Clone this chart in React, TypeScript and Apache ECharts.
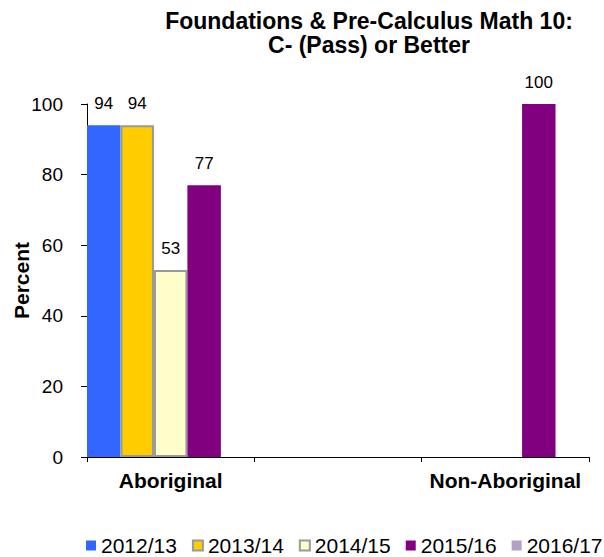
import React, { useEffect, useRef } from "react";
import * as echarts from "echarts";

const categories = ["Aboriginal", "", "Non-Aboriginal"];
const seriesNames = ["2012/13", "2013/14", "2014/15", "2015/16", "2016/17"];
const values2012 = [94, null, null];
const values2013 = [94, null, null];
const values2014 = [53, null, null];
const values2015 = [77, null, 100];
const values2016 = [null, null, null];
const yTicks = { min: 0, max: 100, interval: 20 };

const FONT = "'Liberation Sans', Arial, sans-serif";

export default function App() {
  const ref = useRef<HTMLDivElement>(null);
  useEffect(() => {
    if (!ref.current) return;
    const chart = echarts.init(ref.current, undefined, { renderer: "svg" });
    const allValues = [values2012, values2013, values2014, values2015, values2016];
    const colors = ["#3366FF", "#FFCC00", "#FFFFCC", "#800080", "#B2A1C7"];
    const borders = [null, "#999999", "#999999", null, null];
    const series = seriesNames.map((name, i) => ({
      name,
      type: "bar",
      data: allValues[i],
      barGap: "0%",
      barCategoryGap: "0%",
      itemStyle: {
        color: colors[i],
        borderColor: borders[i] || colors[i],
        borderWidth: borders[i] ? 2 : 0,
      },
      label: {
        show: true,
        position: "top",
        distance: 13,
        fontSize: 17,
        fontFamily: FONT,
        color: "#000",
      },
    }));
    chart.setOption({
      animation: false,
      backgroundColor: "#fff",
      textStyle: { fontFamily: FONT },
      title: {
        text: "Foundations & Pre-Calculus Math 10:\nC- (Pass) or Better",
        left: 364,
        top: 4,
        textAlign: "center",
        textStyle: {
          fontSize: 23,
          fontWeight: "bold",
          fontFamily: FONT,
          color: "#000",
          lineHeight: 24,
        },
      },
      legend: {
        left: 86,
        top: 535,
        itemWidth: 10,
        itemHeight: 10,
        itemGap: 15,
        icon: "rect",
        padding: 0,
        textStyle: { fontSize: 21, fontFamily: FONT, color: "#000", lineHeight: 21 },
        data: seriesNames,
      },
      grid: {
        left: 87,
        right: 15,
        top: 104,
        bottom: 100,
        containLabel: false,
        outerBoundsMode: "none",
      },
      xAxis: {
        type: "category",
        data: categories,
        axisLine: { lineStyle: { color: "#000", width: 1 } },
        axisTick: { show: true, length: 5, lineStyle: { color: "#000" } },
        axisLabel: {
          fontSize: 21,
          fontWeight: "bold",
          fontFamily: FONT,
          color: "#000",
          margin: 13,
          interval: 0,
        },
      },
      yAxis: {
        type: "value",
        min: yTicks.min,
        max: yTicks.max,
        interval: yTicks.interval,
        name: "Percent",
        nameLocation: "middle",
        nameGap: 55,
        nameMoveOverlap: false,
        nameRotate: 90,
        nameTextStyle: {
          fontSize: 21,
          fontWeight: "bold",
          fontFamily: FONT,
          color: "#000",
        },
        splitLine: { show: false },
        axisLine: { show: true, lineStyle: { color: "#000", width: 1 } },
        axisTick: { show: true, length: 6, lineStyle: { color: "#000" } },
        axisLabel: {
          fontSize: 19,
          fontFamily: FONT,
          color: "#000",
          margin: 24,
        },
      },
      series,
    });
    return () => chart.dispose();
  }, []);
  return <div ref={ref} style={{ width: 604, height: 557, position: "absolute", left: 0, top: 0 }} />;
}
